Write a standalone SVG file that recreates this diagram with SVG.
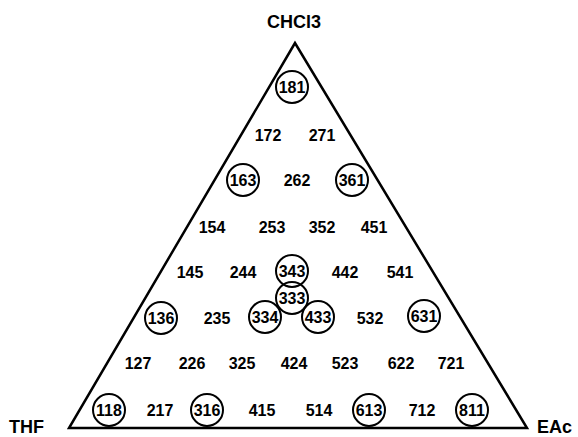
<svg xmlns="http://www.w3.org/2000/svg" width="578" height="437" viewBox="0 0 578 437">
<style>
.n{font-family:"Liberation Sans",Arial,sans-serif;font-weight:bold;font-size:16px;text-anchor:middle;fill:#000}
.lab{font-family:"Liberation Sans",Arial,sans-serif;font-weight:bold;font-size:18px;fill:#000}
.c{fill:none;stroke:#000;stroke-width:2}
.tri{fill:none;stroke:#000;stroke-width:2.5;stroke-linejoin:miter}
</style>
<rect width="578" height="437" fill="#fff"/>
<g id="frame"><polygon class="tri" points="295,43 69,428 527,428"/></g>
<g id="labels">
<text class="lab" x="294" y="28" text-anchor="middle">CHCl3</text>
<text class="lab" x="9" y="433">THF</text>
<text class="lab" x="537" y="433">EAc</text>
</g>
<g id="connectors"></g>
<g id="n181"><circle class="c" cx="292" cy="87" r="16"/><text class="n" x="292" y="93">181</text></g>
<g id="n172"><text class="n" x="268" y="141">172</text></g>
<g id="n271"><text class="n" x="322" y="141">271</text></g>
<g id="n163"><circle class="c" cx="243" cy="180" r="16"/><text class="n" x="243" y="186">163</text></g>
<g id="n262"><text class="n" x="297" y="186">262</text></g>
<g id="n361"><circle class="c" cx="352" cy="180" r="16"/><text class="n" x="352" y="186">361</text></g>
<g id="n154"><text class="n" x="212" y="233">154</text></g>
<g id="n253"><text class="n" x="272" y="233">253</text></g>
<g id="n352"><text class="n" x="322" y="233">352</text></g>
<g id="n451"><text class="n" x="374" y="233">451</text></g>
<g id="n145"><text class="n" x="190" y="278">145</text></g>
<g id="n244"><text class="n" x="243" y="278">244</text></g>
<g id="n343"><circle class="c" cx="292" cy="271" r="16"/><text class="n" x="292" y="277">343</text></g>
<g id="n442"><text class="n" x="345" y="278">442</text></g>
<g id="n541"><text class="n" x="400" y="278">541</text></g>
<g id="n333"><circle class="c" cx="292" cy="298" r="16"/><text class="n" x="292" y="304">333</text></g>
<g id="n136"><circle class="c" cx="161" cy="318" r="16"/><text class="n" x="161" y="324">136</text></g>
<g id="n235"><text class="n" x="217" y="324">235</text></g>
<g id="n334"><circle class="c" cx="265" cy="317" r="16"/><text class="n" x="265" y="323">334</text></g>
<g id="n433"><circle class="c" cx="318" cy="317" r="16"/><text class="n" x="318" y="323">433</text></g>
<g id="n532"><text class="n" x="370" y="324">532</text></g>
<g id="n631"><circle class="c" cx="424" cy="316" r="16"/><text class="n" x="424" y="322">631</text></g>
<g id="n127"><text class="n" x="138" y="369">127</text></g>
<g id="n226"><text class="n" x="192" y="369">226</text></g>
<g id="n325"><text class="n" x="242" y="369">325</text></g>
<g id="n424"><text class="n" x="294" y="369">424</text></g>
<g id="n523"><text class="n" x="345" y="369">523</text></g>
<g id="n622"><text class="n" x="401" y="369">622</text></g>
<g id="n721"><text class="n" x="451" y="369">721</text></g>
<g id="n118"><circle class="c" cx="109" cy="410" r="16"/><text class="n" x="109" y="416">118</text></g>
<g id="n217"><text class="n" x="160" y="416">217</text></g>
<g id="n316"><circle class="c" cx="207" cy="410" r="16"/><text class="n" x="207" y="416">316</text></g>
<g id="n415"><text class="n" x="262" y="416">415</text></g>
<g id="n514"><text class="n" x="319" y="416">514</text></g>
<g id="n613"><circle class="c" cx="369" cy="410" r="16"/><text class="n" x="369" y="416">613</text></g>
<g id="n712"><text class="n" x="422" y="416">712</text></g>
<g id="n811"><circle class="c" cx="472" cy="410" r="16"/><text class="n" x="472" y="416">811</text></g>
</svg>
